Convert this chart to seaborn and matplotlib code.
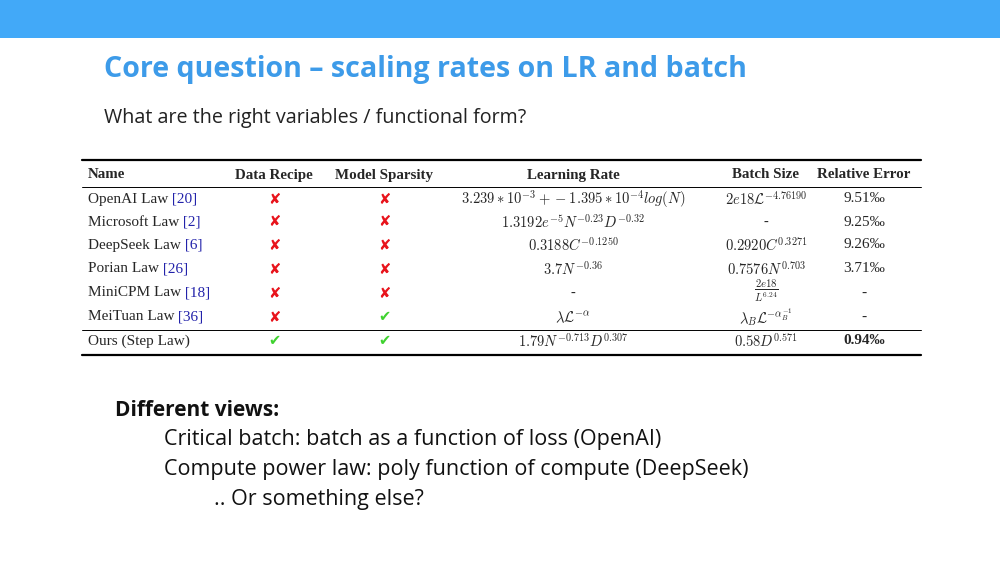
import matplotlib
matplotlib.use("Agg")
import matplotlib.pyplot as plt
import seaborn as sns

names = ["OpenAI Law", "Microsoft Law", "DeepSeek Law", "Porian Law", "MiniCPM Law", "MeiTuan Law", "Ours (Step Law)"]
cites = ["[20]", "[2]", "[6]", "[26]", "[18]", "[36]", ""]
data_recipe = [False, False, False, False, False, False, True]
model_sparsity = [False, False, False, False, False, True, True]
lr_forms = [r"$3.239*10^{-3}+-1.395*10^{-4}log(N)$", r"$1.3192e^{-5}N^{-0.23}D^{-0.32}$",
            r"$0.3188C^{-0.1250}$", r"$3.7N^{-0.36}$", "-", r"$\lambda\mathcal{L}^{-\alpha}$",
            r"$1.79N^{-0.713}D^{0.307}$"]
bs_forms = [r"$2e18\mathcal{L}^{-4.76190}$", "-", r"$0.2920C^{0.3271}$", r"$0.7576N^{0.703}$",
            r"$\frac{2e18}{L^{6.24}}$", r"$\lambda_B\mathcal{L}^{-\alpha_B^{-1}}$", r"$0.58D^{0.571}$"]
rel_err = ["9.51‰", "9.25‰", "9.26‰", "3.71‰", "-", "-", "0.94‰"]
headers = ["Name", "Data Recipe", "Model Sparsity", "Learning Rate", "Batch Size", "Relative Error"]

sns.set_theme(style="white")
plt.rcParams["mathtext.fontset"] = "cm"
plt.rcParams["font.family"] = ["Liberation Serif", "DejaVu Sans"]

fig = plt.figure(figsize=(10, 5.63), dpi=100)
ax = fig.add_axes([0, 0, 1, 1])
ax.set_xlim(0, 1000); ax.set_ylim(563, 0); ax.axis("off")
sns.despine(ax=ax, left=True, bottom=True)

ax.add_patch(plt.Rectangle((0, 0), 1000, 38, color="#42a9f8", lw=0))
ax.text(104, 70, "Core question – scaling rates on LR and batch", fontsize=20.6, fontweight="bold",
        color="#3d9be9", family="Open Sans", va="center")
ax.text(104, 118, "What are the right variables / functional form?", fontsize=14.2,
        color="#222222", family="Open Sans", va="center")

# table
ax.plot([82, 921], [160, 160], color="black", lw=1.6)
ax.plot([82, 921], [187, 187], color="black", lw=0.7)
ax.plot([82, 921], [330, 330], color="black", lw=0.7)
ax.plot([82, 921], [355, 355], color="black", lw=1.6)
hx = [88, 274, 384, 573, 766, 864]
ha = ["left", "center", "center", "center", "center", "center"]
for x, h, a in zip(hx, headers, ha):
    ax.text(x, 175, h, fontsize=10.8, fontweight="bold", ha=a, va="center")
ys = [199, 222, 245, 269, 293, 317, 341]
for i, y in enumerate(ys):
    t = ax.text(88, y, names[i], fontsize=11, va="center")
    if cites[i]:
        ax.annotate(" " + cites[i], xycoords=t, xy=(1, 0), va="bottom", fontsize=11, color="#2222aa")
    for x, flag in ((274, data_recipe[i]), (384, model_sparsity[i])):
        ax.text(x, y, "✔" if flag else "✘", fontsize=10.5, ha="center", va="center",
                color="#3fd22f" if flag else "#e8141c", family="DejaVu Sans")
    ax.text(573, y, lr_forms[i], fontsize=10.5, ha="center", va="center")
    ax.text(766, y - (2 if i == 4 else 0), bs_forms[i], fontsize=10.5 if i != 4 else 11, ha="center", va="center")
    ax.text(864, y, rel_err[i], fontsize=11, ha="center", va="center",
            fontweight="bold" if i == 6 else "normal")

ax.text(115, 410, "Different views:", fontsize=15, fontweight="bold", family="Open Sans", va="center", color="#111111")
ax.text(164, 440, "Critical batch: batch as a function of loss (OpenAI)", fontsize=15.5, family="Open Sans", va="center", color="#111111")
ax.text(164, 470, "Compute power law: poly function of compute (DeepSeek)", fontsize=15.5, family="Open Sans", va="center", color="#111111")
ax.text(214, 500, ".. Or something else?", fontsize=15.5, family="Open Sans", va="center", color="#111111")

fig.savefig("out.png", dpi=100)
